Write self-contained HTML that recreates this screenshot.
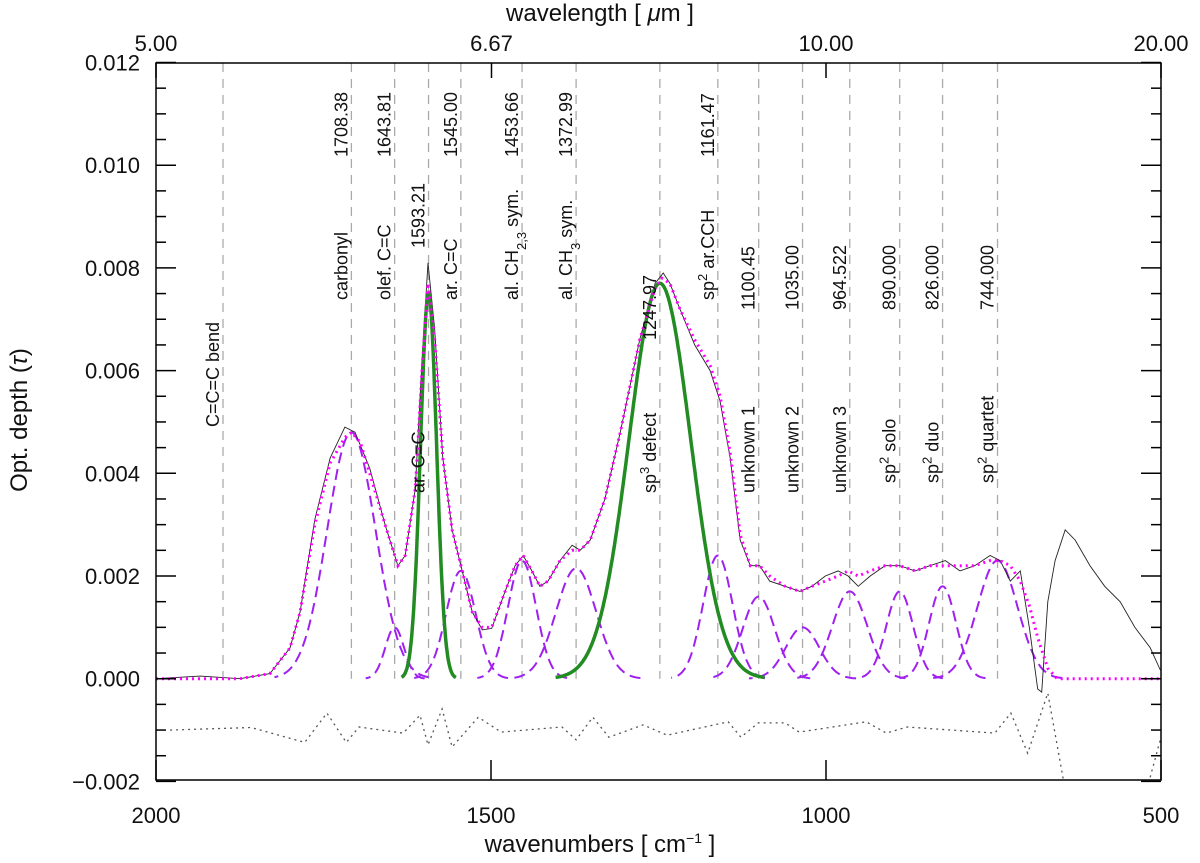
<!DOCTYPE html>
<html><head><meta charset="utf-8"><style>
html,body{margin:0;padding:0;background:#fff}
svg{display:block;font-family:"Liberation Sans",sans-serif}
</style></head><body>
<svg id="chart" width="1200" height="863" viewBox="0 0 1200 863" xmlns="http://www.w3.org/2000/svg">
<defs><clipPath id="plotclip"><rect x="156" y="63" width="1005" height="717"/></clipPath></defs>
<g id="grid"></g>
<g id="series" clip-path="url(#plotclip)"></g>
<g id="labels"></g>
<g id="axes"></g>
</svg>
<script>
const NS="http://www.w3.org/2000/svg";
// ---- data ----
const obsWn=[2000,1934,1875,1830,1800,1785,1763,1740,1718,1703,1681,1658,1639,1628,1613,1603,1594,1584,1572,1558,1543,1528,1513,1499,1479,1464,1452,1439,1427,1415,1397,1379,1367,1352,1330,1307,1278,1255,1243,1233,1218,1196,1173,1158,1143,1128,1113,1099,1084,1061,1039,1021,1001,982,967,952,934,912,890,867,845,822,800,778,755,740,725,710,696,684,678,669,658,643,628,606,584,561,539,516,501];
const obsTau=[0,0.00005,0,0.0001,0.0006,0.0013,0.0031,0.0043,0.0049,0.0048,0.0041,0.0030,0.0022,0.0024,0.0037,0.0062,0.0081,0.0068,0.0043,0.0029,0.0021,0.0013,0.00095,0.00098,0.0017,0.0022,0.0024,0.0021,0.0018,0.0019,0.0023,0.0026,0.0025,0.0027,0.0035,0.0048,0.0066,0.0077,0.0079,0.0077,0.0072,0.0065,0.0060,0.0054,0.0043,0.0027,0.0022,0.0022,0.0019,0.0018,0.0017,0.0018,0.0020,0.0021,0.0020,0.0018,0.0020,0.0022,0.0022,0.0021,0.0022,0.0023,0.0021,0.0022,0.0024,0.0023,0.0019,0.0021,0.00095,-0.0002,-0.00026,0.0015,0.0023,0.0029,0.0027,0.0022,0.0018,0.0015,0.0010,0.0006,0.00017];
const fitWn=[2000,1875,1830,1800,1785,1763,1740,1718,1708,1695,1681,1658,1639,1628,1613,1603,1594,1584,1572,1558,1543,1528,1513,1499,1479,1464,1452,1439,1427,1415,1397,1379,1367,1352,1330,1307,1278,1255,1245,1233,1218,1196,1173,1158,1143,1128,1113,1099,1084,1061,1039,1021,1001,982,967,952,934,912,890,867,845,822,800,778,755,740,725,710,696,684,669,655,640,600,500];
const fitTau=[0,0,0.0001,0.0006,0.0013,0.0030,0.0042,0.0047,0.0048,0.0046,0.0040,0.0030,0.0022,0.0024,0.0037,0.0060,0.0077,0.0066,0.0043,0.0029,0.0021,0.0013,0.0010,0.0010,0.0017,0.0022,0.0024,0.0021,0.0018,0.0019,0.0023,0.0025,0.0025,0.0027,0.0035,0.0048,0.0066,0.0076,0.0078,0.0077,0.0072,0.0066,0.0061,0.0055,0.0044,0.0028,0.0022,0.0022,0.0020,0.0018,0.0017,0.0018,0.0019,0.0020,0.0021,0.0020,0.0021,0.0022,0.0022,0.0021,0.0022,0.0022,0.0022,0.0022,0.0023,0.0023,0.0022,0.0019,0.0014,0.0008,0.0002,0,0,0,0];
const resWn=[1979,1858,1778,1745,1716,1697,1631,1606,1594,1573,1558,1519,1485,1394,1373,1348,1324,1273,1237,1146,1127,1101,1061,1040,940,910,879,748,724,699,669,643,621,531,516,501];
const resTau=[-0.00100,-0.00095,-0.00124,-0.00067,-0.00124,-0.00094,-0.00106,-0.00071,-0.00129,-0.00059,-0.00133,-0.00075,-0.00104,-0.00094,-0.00119,-0.00075,-0.00114,-0.00090,-0.00110,-0.00084,-0.00114,-0.00086,-0.00086,-0.00104,-0.00084,-0.00106,-0.00094,-0.00106,-0.00067,-0.00145,-0.00028,-0.00217,-0.0037,-0.0037,-0.00191,-0.00119];
const compCenter=[1708.38,1643.81,1545.00,1453.66,1372.99,1161.47,1100.45,1035.00,964.522,890.000,826.000,744.000];
const compPeak=[0.0048,0.0010,0.0021,0.0023,0.00215,0.0024,0.0016,0.0010,0.0017,0.0017,0.0018,0.0023];
const compSigma=[36,14,22,21,30,22,24,25,26,20,20,30];
const greenCenter=[1593.21,1247.97];
const greenPeak=[0.0075,0.0077];
const greenSigma=[12,46];
const lineWn=[1900,1708.38,1643.81,1593.21,1545.00,1453.66,1372.99,1247.97,1161.47,1100.45,1035.00,964.522,890.000,826.000,744.000];
const yTicks=[-0.002,0,0.002,0.004,0.006,0.008,0.010,0.012];
const yTickLabels=["\u22120.002","0.000","0.002","0.004","0.006","0.008","0.010","0.012"];
const xTicks=[2000,1500,1000,500];
const topTicks=[5.00,6.67,10.00,20.00];
// ---- scales ----
const X0=156,X1=1161,Y0=678.7,PY=51350;
const xs=w=>X0+(2000-w)*(X1-X0)/1500;
const ys=t=>Y0-t*PY;
function mk(tag,attrs,parent){const e=document.createElementNS(NS,tag);for(const k in attrs)e.setAttribute(k,attrs[k]);parent.appendChild(e);return e;}
const gGrid=document.getElementById('grid'),gS=document.getElementById('series'),gL=document.getElementById('labels'),gA=document.getElementById('axes');
const gauss=(w,c,p,s)=>p*Math.exp(-((w-c)*(w-c))/(2*s*s));
lineWn.forEach(w=>{const l=mk('line',{x1:xs(w),x2:xs(w),y1:63,y2:ys(0),stroke:'#aaa','stroke-width':1.3,'stroke-dasharray':'9 7'},gGrid);

});
function pathFrom(ws,ts){return ws.map((w,i)=>(i?'L':'M')+xs(w).toFixed(1)+','+ys(ts[i]).toFixed(1)).join('');}
compCenter.forEach((c,i)=>{const ws=[],ts=[];for(let w=c-3.2*compSigma[i];w<=c+3.2*compSigma[i];w+=2){ws.push(w);ts.push(gauss(w,c,compPeak[i],compSigma[i]));}
const p=mk('path',{d:pathFrom(ws,ts),fill:'none',stroke:'#a020f0','stroke-width':2,'stroke-dasharray':'11 6'},gS);

});
const po=mk('path',{d:pathFrom(obsWn,obsTau),fill:'none',stroke:'#222','stroke-width':0.9},gS);


const pr=mk('path',{d:pathFrom(resWn,resTau),fill:'none',stroke:'#555','stroke-width':1.3,'stroke-dasharray':'2 4'},gS);


greenCenter.forEach((c,i)=>{const ws=[],ts=[];for(let w=c-3.4*greenSigma[i];w<=c+3.4*greenSigma[i];w+=1){ws.push(w);ts.push(gauss(w,c,greenPeak[i],greenSigma[i]));}
const p=mk('path',{d:pathFrom(ws,ts),fill:'none',stroke:'#228b22','stroke-width':3.5},gS);

});
const pf=mk('path',{d:pathFrom(fitWn,fitTau),fill:'none',stroke:'#ff00ff','stroke-width':3,'stroke-dasharray':'2 4'},gS);


const fr=mk('rect',{x:X0,y:63,width:X1-X0,height:717,fill:'none',stroke:'#000','stroke-width':1.5},gA);


for(let k=-4;k<=24;k++){const t=k*0.0005;const y=ys(t);const len=(k%4===0)?20:10;
mk('line',{x1:X0,x2:X0+len,y1:y,y2:y,stroke:'#000','stroke-width':1.5},gA);mk('line',{x1:X1,x2:X1-len,y1:y,y2:y,stroke:'#000','stroke-width':1.5},gA);}
yTicks.forEach((t,i)=>{const tx=mk('text',{x:140,y:ys(t)+8,'text-anchor':'end','font-size':22,fill:'#111'},gA);tx.textContent=yTickLabels[i];

});
xTicks.forEach(w=>{const x=xs(w);mk('line',{x1:x,x2:x,y1:780,y2:760,stroke:'#000','stroke-width':1.5},gA);
const tx=mk('text',{x:x,y:823,'text-anchor':'middle','font-size':22,fill:'#111'},gA);tx.textContent=String(w);

});
topTicks.forEach(l=>{const x=xs(10000/l);mk('line',{x1:x,x2:x,y1:63,y2:78,stroke:'#000','stroke-width':1.5},gA);
const tx=mk('text',{x:x,y:51,'text-anchor':'middle','font-size':22,fill:'#111'},gA);tx.textContent=l.toFixed(2);

});
const bandLabels=[
[1900,427,'C=C=C bend'],[1708.38,157,'1708.38'],[1708.38,300,'carbonyl'],[1643.81,157,'1643.81'],[1643.81,300,'olef. C=C'],
[1593.21,248,'1593.21'],[1593.21,493,'ar. C=C'],[1545.00,157,'1545.00'],[1545.00,300,'ar. C=C'],
[1453.66,157,'1453.66'],[1453.66,300,'al. CH<tspan baseline-shift="sub" font-size="13">2,3</tspan> sym.'],
[1372.99,157,'1372.99'],[1372.99,300,'al. CH<tspan baseline-shift="sub" font-size="13">3</tspan> sym.'],
[1247.97,340,'1247.97'],[1247.97,493,'sp<tspan baseline-shift="super" font-size="13">3</tspan> defect'],
[1161.47,157,'1161.47'],[1161.47,300,'sp<tspan baseline-shift="super" font-size="13">2</tspan> ar.CCH'],
[1100.45,310,'1100.45'],[1100.45,493,'unknown 1'],[1035.00,310,'1035.00'],[1035.00,493,'unknown 2'],
[964.522,310,'964.522'],[964.522,493,'unknown 3'],[890,310,'890.000'],[890,483,'sp<tspan baseline-shift="super" font-size="13">2</tspan> solo'],
[826,310,'826.000'],[826,483,'sp<tspan baseline-shift="super" font-size="13">2</tspan> duo'],[744,310,'744.000'],[744,483,'sp<tspan baseline-shift="super" font-size="13">2</tspan> quartet']];
bandLabels.forEach(b=>{const x=xs(b[0])-4,y=b[1];const t=mk('text',{x:x,y:y,transform:`rotate(-90 ${x} ${y})`,'font-size':18,fill:'#111'},gL);t.innerHTML=b[2];

});
</script>
<div style="position:absolute;left:0;top:0;width:1200px;height:863px;pointer-events:none">
<div style="position:absolute;left:0;width:1200px;top:0;text-align:center;font:24px 'Liberation Sans',sans-serif;color:#111">wavelength [ <i>μ</i>m ]</div>
<div style="position:absolute;left:0;width:1200px;top:830px;text-align:center;font:24px 'Liberation Sans',sans-serif;color:#111">wavenumbers [ cm<sup style="font-size:14px">−1</sup> ]</div>
<div style="position:absolute;left:-80px;top:406px;width:200px;text-align:center;transform:rotate(-90deg);font:24px 'Liberation Sans',sans-serif;color:#111">Opt. depth (<i>τ</i>)</div>
</div>
</body></html>
